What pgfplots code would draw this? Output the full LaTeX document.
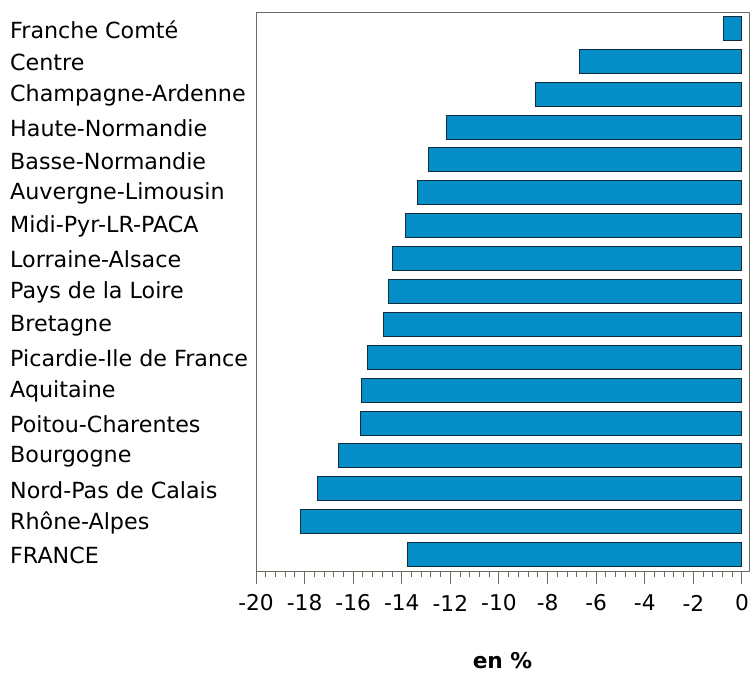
\documentclass[border=0pt]{standalone}
\usepackage{pgfplots}
\pgfplotsset{compat=1.18}
\usepackage{fontspec}
\setmainfont{DejaVu Sans}
\definecolor{barfill}{RGB}{5,141,199}
\definecolor{baredge}{RGB}{20,45,60}
\definecolor{framec}{RGB}{110,106,96}
\begin{document}
\begin{tikzpicture}[x=1bp,y=1bp]
\path[use as bounding box] (0,0) rectangle (750,-673);
\begin{axis}[
  at={(256bp,-571bp)}, anchor=south west,
  scale only axis, width=493bp, height=559bp,
  xbar, bar width=24bp,
  xmin=-20, xmax=0.29,
  ymin=-0.5, ymax=16.5, y dir=reverse,
  ytick={0,...,16},
  yticklabels={Franche Comté,Centre,Champagne-Ardenne,Haute-Normandie,Basse-Normandie,Auvergne-Limousin,Midi-Pyr-LR-PACA,Lorraine-Alsace,Pays de la Loire,Bretagne,Picardie-Ile de France,Aquitaine,Poitou-Charentes,Bourgogne,Nord-Pas de Calais,Rhône-Alpes,FRANCE},
  ytick style={draw=none},
  yticklabel style={anchor=west, inner sep=0pt, xshift=-233bp, yshift=-1bp, font=\fontsize{22.3}{26}\selectfont},
  xtick={-20,-18,...,0},
  xticklabels={-20,-18,-16,-14,-12,-10,-8,-6,-4,-2,0},
  minor x tick num=4,
  tick align=outside,
  xtick pos=bottom,
  major tick length=13bp, minor tick length=6bp,
  every tick/.style={framec, line width=1bp},
  xticklabel style={anchor=center, inner sep=0pt, yshift=-19bp, font=\fontsize{21.8}{26}\selectfont},
  axis line style={framec, line width=1bp},
  xlabel={\textbf{en \%}},
  xlabel style={at={(axis description cs:0.5,0)}, anchor=center, inner sep=0pt, yshift=-90bp},
  font=\fontsize{21.8}{26}\selectfont,
  clip=false,
]
\addplot[fill=barfill, draw=baredge, line width=1bp] coordinates {
(-0.74,0) (-6.7,1) (-8.5,2) (-12.15,3) (-12.91,4) (-13.36,5) (-13.86,6) (-14.40,7) (-14.54,8) (-14.77,9) (-15.42,10) (-15.65,11) (-15.68,12) (-16.60,13) (-17.46,14) (-18.15,15) (-13.76,16)
};
\end{axis}
\end{tikzpicture}
\end{document}
